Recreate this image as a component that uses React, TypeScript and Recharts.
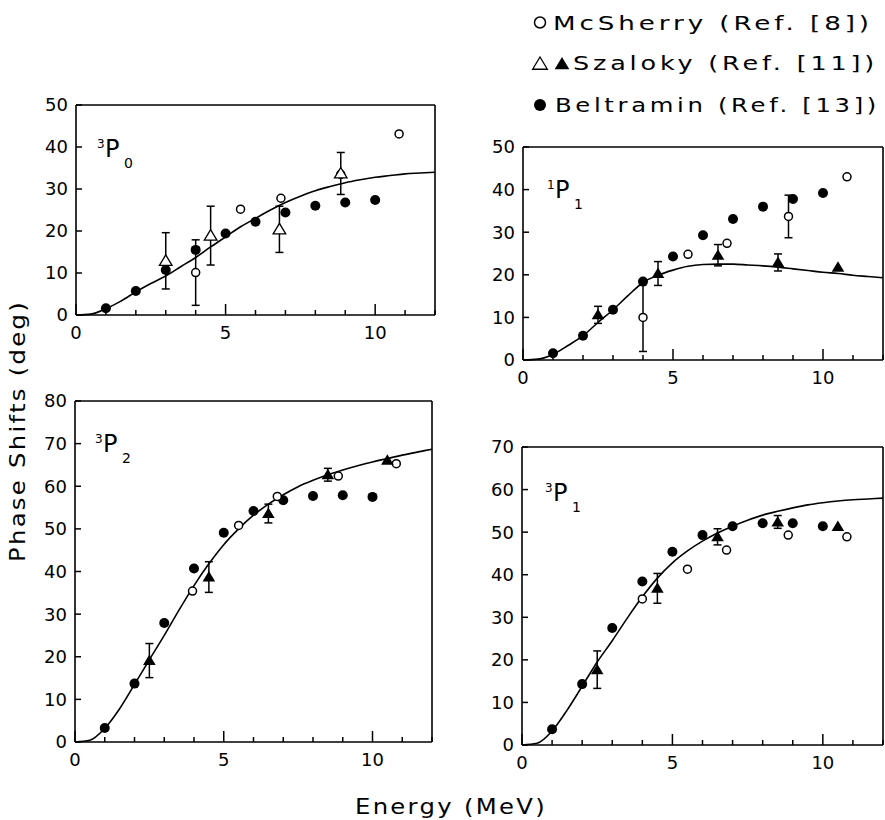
import React from 'react';
import { ComposedChart, Scatter, Line, XAxis, YAxis, ErrorBar } from 'recharts';

type Pt = { e: number; v: number; err?: number };

const FONT = '"DejaVu Sans", sans-serif';
const W = 885;
const H = 820;

const xTicks = [0, 1, 2, 3, 4, 5, 6, 7, 8, 9, 10, 11, 12];
const xMajor = [0, 5, 10];

// energy grid of the fitted curves (MeV)
const curveE = [0, 0.5, 1, 1.5, 2, 2.5, 3, 3.5, 4, 4.5, 5, 5.5, 6, 6.5, 7, 7.5, 8, 8.5, 9, 9.5, 10, 10.5, 11, 11.5, 12];

const fit3P0 = [0, 0.2, 1.5, 3.3, 5.5, 7.5, 9.3, 11.5, 13.7, 16.2, 18.6, 21, 23, 25, 26.8, 28.3, 29.6, 30.6, 31.5, 32.2, 32.8, 33.2, 33.6, 33.8, 34.0];
const fit1P1 = [0, 0.2, 1.3, 3.4, 5.7, 8.8, 11.8, 15.1, 18.2, 19.9, 21.1, 22.0, 22.4, 22.5, 22.5, 22.3, 22.1, 21.8, 21.4, 21.0, 20.6, 20.3, 19.9, 19.6, 19.3];
const fit3P2 = [0, 0.4, 3.2, 7.8, 13.5, 19.3, 25, 31, 36.7, 41.8, 46.3, 50, 53.2, 55.8, 58, 59.9, 61.4, 62.7, 63.8, 64.8, 65.7, 66.5, 67.3, 68, 68.7];
const fit3P1 = [0, 0.4, 3.3, 8.2, 13.8, 19.5, 24.5, 29.8, 34.8, 39.2, 42.8, 45.6, 47.9, 49.8, 51.4, 52.8, 54, 54.9, 55.7, 56.4, 56.9, 57.3, 57.6, 57.8, 58];

// 3P0
const belt3P0: Pt[] = [
  { e: 1, v: 1.6 }, { e: 2, v: 5.7 }, { e: 3, v: 10.7 }, { e: 4, v: 15.5 }, { e: 5, v: 19.4 },
  { e: 6, v: 22.2 }, { e: 7, v: 24.4 }, { e: 8, v: 26.0 }, { e: 9, v: 26.8 }, { e: 10, v: 27.4 },
];
const mcs3P0: Pt[] = [
  { e: 4, v: 10.1, err: 7.8 }, { e: 5.5, v: 25.2 }, { e: 6.85, v: 27.8 }, { e: 8.85, v: 33.5 }, { e: 10.8, v: 43.1 },
];
const sza3P0: Pt[] = [
  { e: 3, v: 12.9, err: 6.7 }, { e: 4.5, v: 18.9, err: 7 }, { e: 6.8, v: 20.4, err: 5.5 }, { e: 8.85, v: 33.7, err: 5 },
];

// 1P1
const belt1P1: Pt[] = [
  { e: 1, v: 1.6 }, { e: 2, v: 5.7 }, { e: 3, v: 11.8 }, { e: 4, v: 18.4 }, { e: 5, v: 24.3 },
  { e: 6, v: 29.3 }, { e: 7, v: 33.1 }, { e: 8, v: 36.0 }, { e: 9, v: 37.8 }, { e: 10, v: 39.2 },
];
const mcs1P1: Pt[] = [
  { e: 4, v: 10.0, err: 8 }, { e: 5.5, v: 24.8 }, { e: 6.8, v: 27.4 }, { e: 8.85, v: 33.7, err: 5 }, { e: 10.8, v: 43.0 },
];
const sza1P1: Pt[] = [
  { e: 2.5, v: 10.6, err: 2 }, { e: 4.5, v: 20.3, err: 2.8 }, { e: 6.5, v: 24.6, err: 2.5 }, { e: 8.5, v: 22.9, err: 2 }, { e: 10.5, v: 21.8 },
];

// 3P2
const belt3P2: Pt[] = [
  { e: 1, v: 3.3 }, { e: 2, v: 13.7 }, { e: 3, v: 27.9 }, { e: 4, v: 40.7 }, { e: 5, v: 49.1 },
  { e: 6, v: 54.2 }, { e: 7, v: 56.7 }, { e: 8, v: 57.7 }, { e: 9, v: 57.9 }, { e: 10, v: 57.5 },
];
const mcs3P2: Pt[] = [
  { e: 3.95, v: 35.4 }, { e: 5.5, v: 50.8 }, { e: 6.8, v: 57.6 }, { e: 8.85, v: 62.4 }, { e: 10.8, v: 65.3 },
];
const sza3P2: Pt[] = [
  { e: 2.5, v: 19.1, err: 4 }, { e: 4.5, v: 38.7, err: 3.6 }, { e: 6.5, v: 53.6, err: 2.2 }, { e: 8.5, v: 62.7, err: 1.5 }, { e: 10.5, v: 66.1 },
];

// 3P1
const belt3P1: Pt[] = [
  { e: 1, v: 3.7 }, { e: 2, v: 14.3 }, { e: 3, v: 27.5 }, { e: 4, v: 38.4 }, { e: 5, v: 45.4 },
  { e: 6, v: 49.3 }, { e: 7, v: 51.4 }, { e: 8, v: 52.1 }, { e: 9, v: 52.1 }, { e: 10, v: 51.4 },
];
const mcs3P1: Pt[] = [
  { e: 4, v: 34.3 }, { e: 5.5, v: 41.3 }, { e: 6.8, v: 45.8 }, { e: 8.85, v: 49.3 }, { e: 10.8, v: 48.9 },
];
const sza3P1: Pt[] = [
  { e: 2.5, v: 17.7, err: 4.4 }, { e: 4.5, v: 36.8, err: 3.5 }, { e: 6.5, v: 48.9, err: 1.9 }, { e: 8.5, v: 52.4, err: 1.5 }, { e: 10.5, v: 51.3 },
];

interface Panel {
  id: string;
  L: number; T: number; R: number; B: number;
  yMax: number;
  fit: number[];
  belt: Pt[]; mcs: Pt[]; sza: Pt[];
  openTri: boolean;
  sup: string; sub: string;
  lx: number; ly: number;
}

const panels: Panel[] = [
  { id: 'p0', L: 76, T: 105, R: 435, B: 315, yMax: 50, fit: fit3P0, belt: belt3P0, mcs: mcs3P0, sza: sza3P0, openTri: true, sup: '3', sub: '0', lx: 97, ly: 157 },
  { id: 'p1', L: 523, T: 147, R: 883, B: 360, yMax: 50, fit: fit1P1, belt: belt1P1, mcs: mcs1P1, sza: sza1P1, openTri: false, sup: '1', sub: '1', lx: 547, ly: 198 },
  { id: 'p2', L: 75, T: 401, R: 432, B: 742, yMax: 80, fit: fit3P2, belt: belt3P2, mcs: mcs3P2, sza: sza3P2, openTri: false, sup: '3', sub: '2', lx: 95, ly: 452 },
  { id: 'p3', L: 522, T: 447, R: 883, B: 745, yMax: 70, fit: fit3P1, belt: belt3P1, mcs: mcs3P1, sza: sza3P1, openTri: false, sup: '3', sub: '1', lx: 545, ly: 501 },
];

const yTicksOf = (P: Panel) => {
  const t: number[] = [];
  for (let v = 0; v <= P.yMax; v += 10) t.push(v);
  return t;
};

const triPath = (cx: number, cy: number, s: number) =>
  `M${cx},${cy - s} L${cx + s * 1.05},${cy + s * 0.75} L${cx - s * 1.05},${cy + s * 0.75} Z`;

const FilledDot = (p: any) => <circle cx={p.cx} cy={p.cy} r={5} fill="#000" />;
const OpenDot = (p: any) => <circle cx={p.cx} cy={p.cy} r={4} fill="#fff" stroke="#000" strokeWidth={1.5} />;
const FilledTri = (p: any) => <path d={triPath(p.cx, p.cy, 6)} fill="#000" />;
const OpenTri = (p: any) => <path d={triPath(p.cx, p.cy, 6)} fill="#fff" stroke="#000" strokeWidth={1.3} />;

// axis ticks: inward mark at the scale position, label only on the bottom / left
const xTick = (P: Panel, side: 'top' | 'bottom') => (props: any) => {
  const x = Number(props.x);
  const v = props.payload.value;
  const len = xMajor.includes(v) ? 11 : 5;
  const y0 = side === 'bottom' ? P.B : P.T;
  const y1 = side === 'bottom' ? P.B - len : P.T + len;
  return (
    <g>
      <line x1={x} x2={x} y1={y0} y2={y1} stroke="#000" strokeWidth={1.5} />
      {side === 'bottom' && xMajor.includes(v) && (
        <text x={x} y={P.B + 18} dy="0.36em" textAnchor="middle" fontFamily={FONT} fontSize={18} fill="#000">{v}</text>
      )}
    </g>
  );
};

const yTick = (P: Panel, side: 'left' | 'right') => (props: any) => {
  const y = Number(props.y);
  const x0 = side === 'left' ? P.L : P.R;
  const x1 = side === 'left' ? P.L + 6 : P.R - 6;
  return (
    <g>
      <line x1={x0} x2={x1} y1={y} y2={y} stroke="#000" strokeWidth={1.5} />
      {side === 'left' && (
        <text x={P.L - 8} y={y} dy="0.36em" textAnchor="end" fontFamily={FONT} fontSize={18} fill="#000">{props.payload.value}</text>
      )}
    </g>
  );
};

const axisLine = { stroke: '#000', strokeWidth: 1.6 };

const PanelChart: React.FC<{ P: Panel }> = ({ P }) => {
  const yTicks = yTicksOf(P);
  const curve = curveE.map((e, i) => ({ e, v: P.fit[i] }));
  const withErr = (a: Pt[]) => a.filter((d) => d.err != null);
  const noErr = (a: Pt[]) => a.filter((d) => d.err == null);
  const TriShape = P.openTri ? OpenTri : FilledTri;
  return (
    <div style={{ position: 'absolute', left: 0, top: 0 }}>
      <ComposedChart
        width={W}
        height={H}
        margin={{ top: P.T - 1, left: P.L - 1, right: W - P.R - 1, bottom: H - P.B - 1 }}
      >
        <XAxis xAxisId="b" dataKey="e" type="number" domain={[0, 12]} ticks={xTicks} interval={0}
          height={1} tickSize={0} tickLine={false} axisLine={axisLine} tick={xTick(P, 'bottom')} />
        <XAxis xAxisId="t" orientation="top" dataKey="e" type="number" domain={[0, 12]} ticks={xTicks} interval={0}
          height={1} tickSize={0} tickLine={false} axisLine={axisLine} tick={xTick(P, 'top')} />
        <YAxis yAxisId="l" type="number" domain={[0, P.yMax]} ticks={yTicks} interval={0}
          width={1} tickSize={0} tickLine={false} axisLine={axisLine} tick={yTick(P, 'left')} />
        <YAxis yAxisId="r" orientation="right" type="number" domain={[0, P.yMax]} ticks={yTicks} interval={0}
          width={1} tickSize={0} tickLine={false} axisLine={axisLine} tick={yTick(P, 'right')} />
        <Line data={curve} dataKey="v" xAxisId="b" yAxisId="l" type="monotone" dot={false}
          stroke="#000" strokeWidth={1.6} isAnimationActive={false} />
        <Scatter data={P.belt} dataKey="v" xAxisId="b" yAxisId="l" shape={FilledDot} isAnimationActive={false} />
        <Scatter data={withErr(P.mcs)} dataKey="v" xAxisId="b" yAxisId="l" shape={OpenDot} isAnimationActive={false}>
          <ErrorBar dataKey="err" direction="y" width={4} stroke="#000" strokeWidth={1.5} />
        </Scatter>
        <Scatter data={noErr(P.mcs)} dataKey="v" xAxisId="b" yAxisId="l" shape={OpenDot} isAnimationActive={false} />
        <Scatter data={withErr(P.sza)} dataKey="v" xAxisId="b" yAxisId="l" shape={TriShape} isAnimationActive={false}>
          <ErrorBar dataKey="err" direction="y" width={4} stroke="#000" strokeWidth={1.5} />
        </Scatter>
        <Scatter data={noErr(P.sza)} dataKey="v" xAxisId="b" yAxisId="l" shape={TriShape} isAnimationActive={false} />
      </ComposedChart>
    </div>
  );
};

const Overlay: React.FC = () => (
  <svg width={W} height={H} style={{ position: 'absolute', left: 0, top: 0, pointerEvents: 'none' }} fontFamily={FONT}>
    {panels.map((P) => (
      <g key={P.id} fill="#000">
        <text x={P.lx} y={P.ly - 9} fontSize={12}>{P.sup}</text>
        <text x={P.lx + 8} y={P.ly} fontSize={24}>P</text>
        <text x={P.lx + 27} y={P.ly + 11} fontSize={14}>{P.sub}</text>
      </g>
    ))}
    <text transform="translate(25, 431) rotate(-90)" textAnchor="middle" fontSize={21} letterSpacing={2}
      textLength={262} lengthAdjust="spacingAndGlyphs">Phase Shifts (deg)</text>
    <text x={451} y={814} textAnchor="middle" fontSize={21} letterSpacing={2}
      textLength={192} lengthAdjust="spacingAndGlyphs">Energy (MeV)</text>

    <circle cx={540} cy={22.5} r={5.5} fill="#fff" stroke="#000" strokeWidth={1.5} />
    <text x={553} y={30} fontSize={20} letterSpacing={3} textLength={320} lengthAdjust="spacingAndGlyphs">McSherry (Ref. [8])</text>
    <path d={triPath(540, 64, 7)} fill="#fff" stroke="#000" strokeWidth={1.3} />
    <path d={triPath(562, 64, 7)} fill="#000" />
    <text x={573} y={70} fontSize={20} letterSpacing={3} textLength={305} lengthAdjust="spacingAndGlyphs">Szaloky (Ref. [11])</text>
    <circle cx={540} cy={105} r={6} fill="#000" />
    <text x={555} y={112} fontSize={20} letterSpacing={3} textLength={325} lengthAdjust="spacingAndGlyphs">Beltramin (Ref. [13])</text>
  </svg>
);

export default function App() {
  return (
    <div style={{ position: 'absolute', left: 0, top: 0, width: W, height: H, overflow: 'hidden', background: '#fff' }}>
      {panels.map((P) => (
        <PanelChart key={P.id} P={P} />
      ))}
      <Overlay />
    </div>
  );
}
